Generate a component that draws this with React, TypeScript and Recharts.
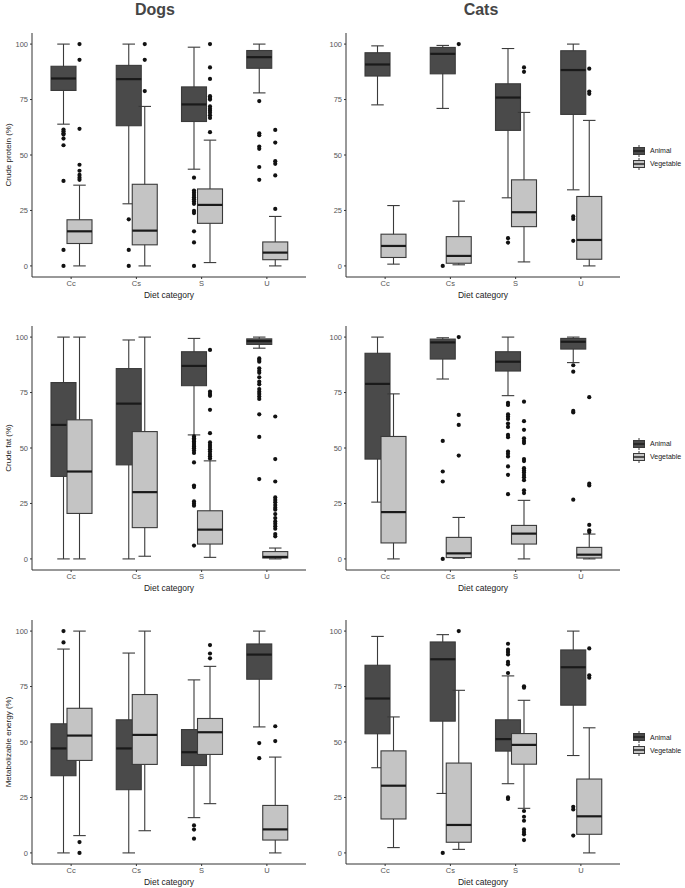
import React from "react";
import { Bar, ComposedChart, Legend, XAxis, YAxis } from "recharts";

const FONT = '"Liberation Sans", Arial, Helvetica, sans-serif';

const categories = ["Cc", "Cs", "S", "U"];
const yTicks = [0, 25, 50, 75, 100];

// each box: [lower whisker, q1, median, q3, upper whisker], one per category
const dogsProteinAnimal = [[63.9, 79.1, 84.5, 90.0, 100], [28.0, 63.2, 84.2, 90.4, 100], [43.6, 65.1, 72.8, 80.7, 98.6], [78.0, 89.1, 94.1, 97.1, 100]];
const dogsProteinAnimalOut = [[61.5, 60.7, 59.8, 59.2, 57.4, 54.4, 38.3, 7.2, 0], [21, 7.2, 0], [39.8, 34, 33, 32, 31, 30, 29, 28, 24.8, 23.8, 15.6, 10.6, 0], [74.3, 59.8, 58.9, 53.8, 52.8, 44.6, 38.8]];
const dogsProteinVeg = [[0, 10.1, 15.6, 20.8, 36.4], [0, 9.5, 15.9, 36.8, 71.9], [1.5, 19.2, 27.5, 34.7, 56.7], [0, 2.8, 6.0, 10.8, 22.3]];
const dogsProteinVegOut = [[100, 92.9, 61.8, 45.6, 42.9, 41, 39.8, 38.8], [100, 92.9, 78.8], [100, 89.5, 84.3, 76.5, 75.7, 75, 71.9, 70.8, 70, 69, 67.9, 66.7, 60.3], [61.3, 55.6, 47.2, 46, 40.8, 25.7]];

const catsProteinAnimal = [[72.6, 85.6, 90.8, 96.1, 99.2], [71.0, 86.6, 95.6, 98.5, 99.4], [30.7, 61.1, 75.9, 82.1, 98.0], [34.3, 68.3, 88.3, 97.0, 100]];
const catsProteinAnimalOut = [[], [0], [12.5, 10.5], [22.3, 21.2, 11.3]];
const catsProteinVeg = [[0.8, 3.8, 9.0, 14.3, 27.2], [0.5, 1.2, 4.5, 13.2, 29.2], [1.8, 17.7, 24.2, 38.8, 69.2], [0, 3.0, 11.7, 31.3, 65.6]];
const catsProteinVegOut = [[], [100], [89.5, 87.5], [88.9, 78.6, 77.6]];

const dogsFatAnimal = [[0, 37.2, 60.4, 79.5, 100], [0, 42.4, 70.0, 85.8, 98.7], [55.9, 78.1, 87.0, 93.4, 99.4], [95.0, 96.7, 98.2, 99.2, 100]];
const dogsFatAnimalOut = [[], [], [55.2, 54.4, 53.7, 52.9, 52.2, 51.4, 50.7, 49.9, 48.9, 47.8, 43.5, 33.1, 32.4, 25.9, 24.9, 24, 6], [90.4, 89.7, 88.9, 85.9, 84.8, 83.9, 81.9, 79.9, 78.7, 76.6, 75.4, 74.4, 73.2, 72.1, 65.2, 55, 36]];
const dogsFatVeg = [[0, 20.5, 39.4, 62.7, 100], [1.2, 14.1, 30.1, 57.4, 100], [0.7, 6.7, 13.2, 21.7, 44.2], [0, 0.4, 0.9, 3.3, 4.9]];
const dogsFatVegOut = [[], [], [94.2, 75.4, 74.4, 73.5, 67.2, 56.7, 52.5, 51.4, 50.4, 49.4, 48.4, 47.3, 46.3, 45.3], [64.2, 45, 34.9, 27.7, 26.6, 25.5, 24.3, 23.1, 22.2, 20.2, 18.4, 16.9, 15.8, 14.7, 13.6, 11.2, 10.2]];

const catsFatAnimal = [[25.6, 45.0, 78.9, 92.7, 100], [81.1, 90.1, 97.6, 99.1, 99.7], [73.6, 84.7, 88.9, 93.4, 100], [88.5, 94.6, 97.9, 99.4, 100]];
const catsFatAnimalOut = [[], [53.2, 39.4, 34.9, 0], [70.4, 69.4, 65.2, 64.2, 63.1, 61, 59.5, 55.9, 54.9, 48.4, 47.4, 46.2, 41.7, 37.9, 29.2], [87.3, 84.4, 66.7, 66, 26.7]];
const catsFatVeg = [[0, 7.2, 21.1, 55.2, 74.4], [0.3, 0.6, 2.5, 9.7, 18.7], [0, 6.7, 11.4, 15.1, 26.4], [0, 0.4, 1.9, 5.2, 11.2]];
const catsFatVegOut = [[], [100, 64.9, 60.4, 46.6], [70.9, 62.1, 58.2, 54.4, 53.2, 52.2, 45, 44.1, 40.9, 39.9, 38.9, 37.8, 36.8, 35.5, 30.9, 29.7], [72.9, 33.9, 33.1, 15.3, 12.9, 12.1]];

const dogsEnergyAnimal = [[0, 34.8, 47.1, 58.2, 91.9], [0, 28.5, 47.1, 60.0, 90.1], [15.9, 39.4, 45.4, 55.6, 78.0], [56.8, 78.3, 89.4, 94.2, 100]];
const dogsEnergyAnimalOut = [[100, 94.9], [], [12.4, 10.5, 6.4], [49.5, 42.7]];
const dogsEnergyVeg = [[7.8, 41.7, 52.9, 65.2, 100], [10.0, 39.9, 53.2, 71.4, 100], [22.2, 44.4, 54.4, 60.6, 84.1], [0, 5.8, 10.6, 21.4, 43.2]];
const dogsEnergyVegOut = [[4.9, 0], [], [93.7, 89.9, 87.7], [57.1, 50.4]];

const catsEnergyAnimal = [[38.4, 53.7, 69.6, 84.6, 97.6], [26.8, 59.4, 87.3, 95.1, 98.4], [31.2, 45.9, 51.3, 60.0, 79.8], [43.9, 66.6, 83.7, 91.5, 100]];
const catsEnergyAnimalOut = [[], [0], [94.3, 91.6, 90.6, 89.5, 86.1, 85, 81.1, 25, 24.3], [20.8, 19.6, 7.8]];
const catsEnergyVeg = [[2.4, 15.3, 30.3, 46.0, 61.3], [1.6, 4.8, 12.6, 40.5, 73.3], [20.1, 40.0, 48.7, 53.8, 68.8], [0, 8.4, 16.5, 33.3, 56.4]];
const catsEnergyVegOut = [[], [100], [75.1, 74.5, 18.9, 16.3, 14.5, 10.6, 9.4, 8.4, 5.8], [92.2, 80.1, 79]];

const nutrients = ["Crude protein (%)", "Crude fat (%)", "Metabolizable energy (%)"];

const buildRows = (a, ao, v, vo) =>
  categories.map((cat, i) => ({
    cat,
    animal: { s: a[i], o: ao[i] },
    veg: { s: v[i], o: vo[i] },
  }));

const dogRows = [
  buildRows(dogsProteinAnimal, dogsProteinAnimalOut, dogsProteinVeg, dogsProteinVegOut),
  buildRows(dogsFatAnimal, dogsFatAnimalOut, dogsFatVeg, dogsFatVegOut),
  buildRows(dogsEnergyAnimal, dogsEnergyAnimalOut, dogsEnergyVeg, dogsEnergyVegOut),
];
const catRows = [
  buildRows(catsProteinAnimal, catsProteinAnimalOut, catsProteinVeg, catsProteinVegOut),
  buildRows(catsFatAnimal, catsFatAnimalOut, catsFatVeg, catsFatVegOut),
  buildRows(catsEnergyAnimal, catsEnergyAnimalOut, catsEnergyVeg, catsEnergyVegOut),
];

const ANIMAL = "#4a4a4a";
const VEG = "#c4c4c4";
const LINE = "#3a3a3a";
const TICK = "#555555";
const BOX_W = 25;

// the bar spans the whisker range; other stats are placed on the same linear scale
function BoxShape(props: any) {
  const { x, y, width, height, fill, payload, group } = props;
  const d = payload[group];
  const [lo, q1, med, q3, hi] = d.s;
  const top = Math.min(y, y + height);
  const bot = Math.max(y, y + height);
  const pix = (v: number) => bot - ((v - lo) / (hi - lo)) * (bot - top);
  const cx = x + width / 2;
  const capW = BOX_W / 2;
  return (
    <g>
      <line x1={cx} x2={cx} y1={pix(hi)} y2={pix(lo)} stroke={LINE} strokeWidth={1.1} />
      <line x1={cx - capW / 2} x2={cx + capW / 2} y1={pix(hi)} y2={pix(hi)} stroke={LINE} strokeWidth={1.1} />
      <line x1={cx - capW / 2} x2={cx + capW / 2} y1={pix(lo)} y2={pix(lo)} stroke={LINE} strokeWidth={1.1} />
      <rect
        x={cx - BOX_W / 2}
        y={pix(q3)}
        width={BOX_W}
        height={Math.max(pix(q1) - pix(q3), 0.5)}
        fill={fill}
        stroke={LINE}
        strokeWidth={1.1}
      />
      <line x1={cx - BOX_W / 2} x2={cx + BOX_W / 2} y1={pix(med)} y2={pix(med)} stroke="#1a1a1a" strokeWidth={2.2} />
      {d.o.map((v: number, i: number) => (
        <circle key={i} cx={cx} cy={pix(v)} r={2.1} fill="#111" />
      ))}
    </g>
  );
}

function LegendContent(props: any) {
  const { payload } = props;
  return (
    <div style={{ fontFamily: FONT, fontSize: 7, color: "#222" }}>
      {(payload || []).map((p: any) => (
        <div key={p.value} style={{ display: "flex", alignItems: "center", height: 13 }}>
          <svg width={12} height={12}>
            <line x1={6} x2={6} y1={0} y2={12} stroke={LINE} strokeWidth={1} />
            <rect x={0.5} y={2.5} width={11} height={7} fill={p.color} stroke={LINE} strokeWidth={1} />
            <line x1={0.5} x2={11.5} y1={6} y2={6} stroke="#1a1a1a" strokeWidth={1.4} />
          </svg>
          <span style={{ marginLeft: 5 }}>{p.value}</span>
        </div>
      ))}
    </div>
  );
}

function Panel({ rows, yLabel, left, top, width, yAxisWidth, marginRight, showLegend }: any) {
  return (
    <div style={{ position: "absolute", left, top }}>
      <ComposedChart
        width={width}
        height={300}
        data={rows}
        margin={{ top: 33, right: marginRight, bottom: 2, left: 0 }}
        barSize={16}
        barGap={0}
      >
        <XAxis
          dataKey="cat"
          type="category"
          padding={{ left: 6.5, right: 6.5 }}
          height={21}
          tickSize={2}
          tickMargin={2}
          tick={{ fontSize: 7.5, fill: TICK, fontFamily: FONT }}
          axisLine={{ stroke: "#333" }}
          tickLine={{ stroke: "#333" }}
          label={{ value: "Diet category", position: "insideBottom", offset: 0, style: { fontSize: 8.5, fill: "#222", fontFamily: FONT } }}
        />
        <YAxis
          type="number"
          domain={[-5, 105]}
          ticks={yTicks}
          allowDataOverflow
          width={yAxisWidth}
          tickSize={2}
          tickMargin={2}
          tick={{ fontSize: 7.5, fill: TICK, fontFamily: FONT }}
          axisLine={{ stroke: "#333" }}
          tickLine={{ stroke: "#333" }}
          label={
            yLabel
              ? { value: yLabel, angle: -90, position: "insideLeft", offset: 8, style: { textAnchor: "middle", fontSize: 8, fill: "#222", fontFamily: FONT } }
              : undefined
          }
        />
        <Bar
          name="Animal"
          dataKey={(d: any) => [d.animal.s[0], d.animal.s[4]]}
          fill={ANIMAL}
          isAnimationActive={false}
          shape={(p: any) => <BoxShape {...p} group="animal" />}
        />
        <Bar
          name="Vegetable"
          dataKey={(d: any) => [d.veg.s[0], d.veg.s[4]]}
          fill={VEG}
          isAnimationActive={false}
          shape={(p: any) => <BoxShape {...p} group="veg" />}
        />
        {showLegend && (
          <Legend
            layout="vertical"
            align="center"
            verticalAlign="middle"
            content={<LegendContent />}
            wrapperStyle={{ left: 323, top: 144, width: 60, height: 28 }}
          />
        )}
      </ComposedChart>
    </div>
  );
}

const titleStyle: React.CSSProperties = {
  position: "absolute",
  top: 1,
  transform: "translateX(-50%)",
  fontSize: 16,
  fontWeight: "bold",
  color: "#454545",
  lineHeight: "18px",
};

export default function App() {
  const rowStep = 293.4;
  return (
    <div style={{ position: "absolute", left: 0, top: 0, width: 685, height: 888, background: "#fff", fontFamily: FONT }}>
      <div style={{ ...titleStyle, left: 155 }}>Dogs</div>
      <div style={{ ...titleStyle, left: 481 }}>Cats</div>
      {nutrients.map((n, i) => (
        <React.Fragment key={n}>
          <Panel rows={dogRows[i]} yLabel={n} left={0} top={i * rowStep} width={310} yAxisWidth={32} marginRight={4} showLegend={false} />
          <Panel rows={catRows[i]} yLabel={null} left={310} top={i * rowStep} width={375} yAxisWidth={36} marginRight={65} showLegend />
        </React.Fragment>
      ))}
    </div>
  );
}
